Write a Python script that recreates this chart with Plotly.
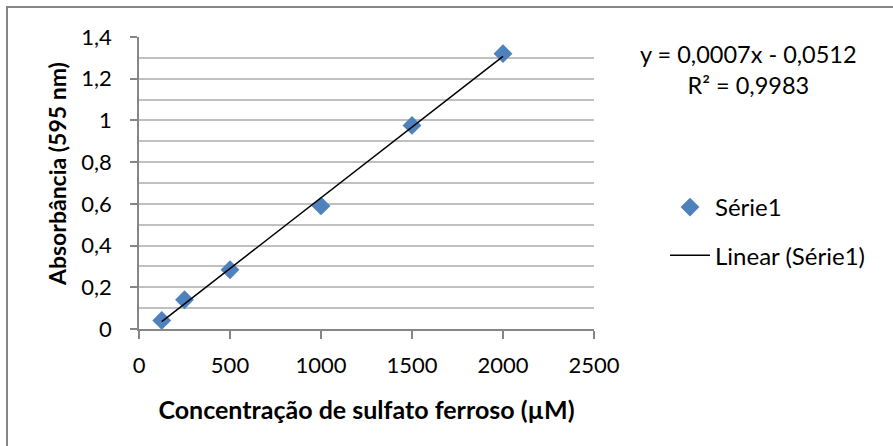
import numpy as np
import plotly.graph_objects as go

# Data
concentracao = [125, 250, 500, 1000, 1500, 2000]
absorbancia = [0.041, 0.140, 0.284, 0.590, 0.976, 1.320]

x_ticks = [0, 500, 1000, 1500, 2000, 2500]
y_ticks = [0, 0.2, 0.4, 0.6, 0.8, 1.0, 1.2, 1.4]

equation_text = "y = 0,0007x - 0,0512<br>R² = 0,9983"
x_title = "<b>Concentração de sulfato ferroso (µM)</b>"
y_title = "<b>Absorbância (595 nm)</b>"

W, H = 893, 446
L, R, T, B = 139, 299, 37, 117

slope, intercept = np.polyfit(concentracao, absorbancia, 1)
x_fit = [min(concentracao), max(concentracao)]
y_fit = [slope * v + intercept for v in x_fit]

FONT = "Lato"

fig = go.Figure()
fig.add_trace(go.Scatter(
    x=concentracao, y=absorbancia, mode="markers", name="Série1",
    legendgroup="a",
    marker=dict(symbol="diamond", size=14.5, color="#4F81BD"),
))
fig.add_trace(go.Scatter(
    x=x_fit, y=y_fit, mode="lines", name="Linear (Série1)",
    legendgroup="b",
    line=dict(color="black", width=1.5),
))

pw = W - L - R
ph = H - T - B

def px2paper_x(px):
    return (px - L) / pw

def px2paper_y(py):
    return (H - B - py) / ph

fig.update_layout(
    width=W, height=H, autosize=False,
    margin=dict(l=L, r=R, t=T, b=B, pad=0),
    paper_bgcolor="white", plot_bgcolor="white",
    separators=",.",
    font=dict(family=FONT, size=22, color="black"),
    showlegend=True,
    legend=dict(
        x=px2paper_x(665), y=px2paper_y(185), xanchor="left", yanchor="top",
        font=dict(family=FONT, size=24, color="black"),
        traceorder="grouped", tracegroupgap=14,
        itemwidth=40,
        bgcolor="rgba(0,0,0,0)",
    ),
    xaxis=dict(
        range=[0, 2500], tickvals=x_ticks, ticks="outside", ticklen=8,
        tickcolor="#868686", tickwidth=1.5,
        showline=True, linecolor="#868686", linewidth=1.5,
        showgrid=False, zeroline=False,
        tickfont=dict(family=FONT, size=22),
        ticklabelstandoff=8,
        title=dict(text=x_title, font=dict(family=FONT, size=25), standoff=24),
        automargin=False,
    ),
    yaxis=dict(
        range=[0, 1.4], tickvals=y_ticks, ticks="outside", ticklen=7,
        tickcolor="#868686", tickwidth=1.5,
        showline=True, linecolor="#868686", linewidth=1.5,
        showgrid=True, gridcolor="#C0C0C0", gridwidth=1.5,
        minor=dict(dtick=0.1, showgrid=True, gridcolor="#C0C0C0", gridwidth=1.5, ticks=""),
        zeroline=False,
        tickfont=dict(family=FONT, size=22),
        ticklabelstandoff=14,
        automargin=False,
    ),
)

# y-axis title (placed like the reference, slightly above plot center)
fig.add_annotation(
    text=y_title, xref="paper", yref="paper",
    x=px2paper_x(57), y=px2paper_y(174), xanchor="center", yanchor="middle",
    textangle=-90, showarrow=False,
    font=dict(family=FONT, size=23, color="black"),
)

fig.add_annotation(
    text=equation_text, xref="paper", yref="paper",
    x=px2paper_x(748), y=px2paper_y(38), xanchor="center", yanchor="top",
    showarrow=False, align="center",
    font=dict(family=FONT, size=23.5, color="black"),
)

# chart-area border (left and top visible)
fig.add_shape(type="line", xref="paper", yref="paper",
              x0=px2paper_x(7), x1=px2paper_x(7), y0=px2paper_y(446), y1=px2paper_y(7),
              line=dict(color="#868686", width=2))
fig.add_shape(type="line", xref="paper", yref="paper",
              x0=px2paper_x(6), x1=px2paper_x(893), y0=px2paper_y(7), y1=px2paper_y(7),
              line=dict(color="#868686", width=2))

fig.write_html("out.html", config={"displayModeBar": False},
               post_script="document.body.style.margin='0';")
